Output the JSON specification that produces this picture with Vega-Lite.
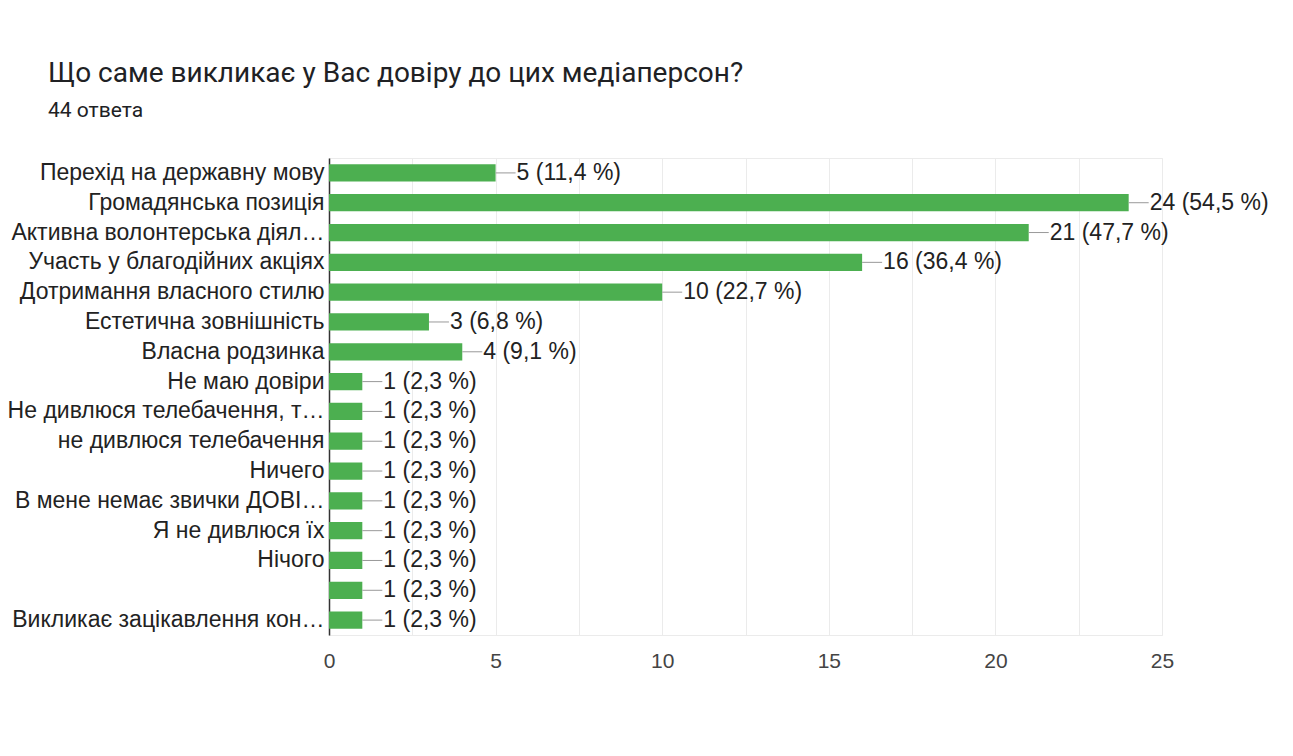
{
  "$schema": "https://vega.github.io/schema/vega-lite/v6.json",
  "width": 833,
  "height": 477,
  "autosize": {"type": "none"},
  "padding": {"left": 329, "top": 158, "right": 131, "bottom": 121},
  "background": "white",
  "title": {
    "text": "Що саме викликає у Вас довіру до цих медіаперсон?",
    "subtitle": "44 ответа",
    "anchor": "start",
    "frame": "group",
    "dx": -281,
    "offset": 37,
    "font": "Roboto",
    "fontSize": 28,
    "fontWeight": "normal",
    "color": "#202124",
    "subtitleFont": "Roboto",
    "subtitleFontSize": 21,
    "subtitleColor": "#202124",
    "subtitlePadding": 12
  },
  "data": {
    "values": [
      {"option": "Перехід на державну мову", "count": 5, "label": "5 (11,4 %)"},
      {"option": "Громадянська позиція", "count": 24, "label": "24 (54,5 %)"},
      {"option": "Активна волонтерська діял…", "count": 21, "label": "21 (47,7 %)"},
      {"option": "Участь у благодійних акціях", "count": 16, "label": "16 (36,4 %)"},
      {"option": "Дотримання власного стилю", "count": 10, "label": "10 (22,7 %)"},
      {"option": "Естетична зовнішність", "count": 3, "label": "3 (6,8 %)"},
      {"option": "Власна родзинка", "count": 4, "label": "4 (9,1 %)"},
      {"option": "Не маю довіри", "count": 1, "label": "1 (2,3 %)"},
      {"option": "Не дивлюся телебачення, т…", "count": 1, "label": "1 (2,3 %)"},
      {"option": "не дивлюся телебачення", "count": 1, "label": "1 (2,3 %)"},
      {"option": "Ничего", "count": 1, "label": "1 (2,3 %)"},
      {"option": "В мене немає звички ДОВІ…", "count": 1, "label": "1 (2,3 %)"},
      {"option": "Я не дивлюся їх", "count": 1, "label": "1 (2,3 %)"},
      {"option": "Нічого", "count": 1, "label": "1 (2,3 %)"},
      {"option": " ", "count": 1, "label": "1 (2,3 %)"},
      {"option": "Викликає зацікавлення кон…", "count": 1, "label": "1 (2,3 %)"}
    ]
  },
  "encoding": {
    "y": {
      "field": "option",
      "type": "nominal",
      "sort": null,
      "scale": {"paddingInner": 0.42, "paddingOuter": 0.21},
      "axis": {
        "title": null,
        "ticks": false,
        "grid": false,
        "domain": true,
        "domainColor": "#333333",
        "domainWidth": 1.5,
        "labelFont": "Liberation Sans",
        "labelFontSize": 23,
        "labelColor": "#222222",
        "labelPadding": 5,
        "labelLimit": 400
      }
    },
    "x": {
      "field": "count",
      "type": "quantitative",
      "scale": {"domain": [0, 25], "nice": false},
      "axis": {
        "title": null,
        "values": [0, 2.5, 5, 7.5, 10, 12.5, 15, 17.5, 20, 22.5, 25],
        "labelExpr": "datum.value % 5 === 0 ? datum.label : ''",
        "labelFlush": false,
        "labelOverlap": false,
        "ticks": false,
        "domain": false,
        "grid": true,
        "gridColor": "#ebebeb",
        "gridWidth": 1,
        "labelFont": "Liberation Sans",
        "labelFontSize": 21,
        "labelColor": "#444444",
        "labelPadding": 15
      }
    }
  },
  "layer": [
    {"mark": {"type": "bar", "color": "#4caf50"}},
    {
      "mark": {"type": "rule", "color": "#999999", "strokeWidth": 1, "x2Offset": 20},
      "encoding": {"x2": {"field": "count"}}
    },
    {
      "mark": {"type": "text", "align": "left", "baseline": "middle", "dx": 21, "font": "Liberation Sans", "fontSize": 23, "color": "#222222"},
      "encoding": {"text": {"field": "label"}}
    }
  ],
  "config": {
    "view": {"stroke": "#ebebeb", "strokeWidth": 1}
  }
}
